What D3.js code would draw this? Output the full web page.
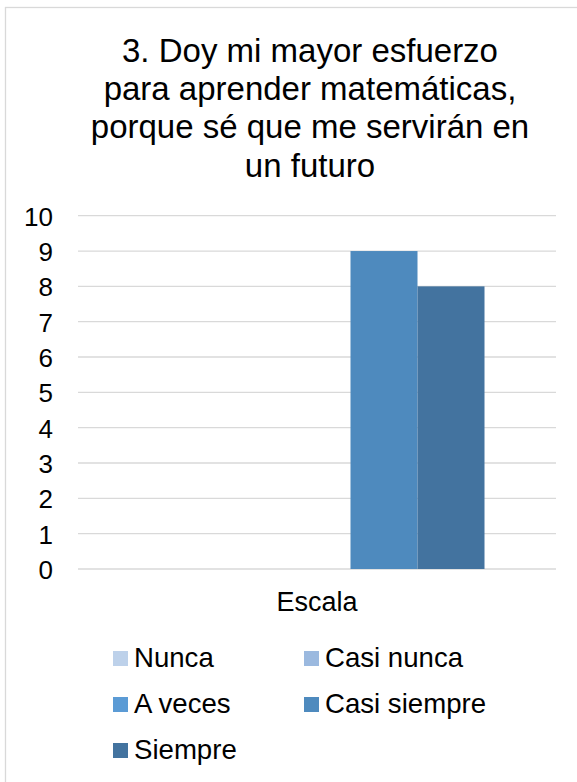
<!DOCTYPE html>
<html>
<head>
<meta charset="utf-8">
<script src="https://cdn.jsdelivr.net/npm/d3@7"></script>
<style>
  html, body { margin: 0; padding: 0; background: #fff; }
  svg { display: block; font-family: "Liberation Sans", Arial, sans-serif; }
</style>
</head>
<body>
<svg id="chart" width="577" height="782"></svg>
<script>
// Survey answers for item 3, grouped under one category
const titleLines = [
  "3. Doy mi mayor esfuerzo",
  "para aprender matemáticas,",
  "porque sé que me servirán en",
  "un futuro"
];
const categories = ["Escala"];
const seriesNames = ["Nunca", "Casi nunca", "A veces", "Casi siempre", "Siempre"];
const seriesValues = [0, 0, 0, 9, 8];
const seriesColors = ["#bdd1ea", "#9bb9df", "#5b9bd5", "#4e8abe", "#43739f"];
const yTicks = [0, 1, 2, 3, 4, 5, 6, 7, 8, 9, 10];

const svg = d3.select("#chart");

// chart frame (extends past the right and bottom edges)
svg.append("rect")
  .attr("x", 5.5).attr("y", 7.5)
  .attr("width", 620).attr("height", 820)
  .attr("fill", "#fff")
  .attr("stroke", "#d9d9d9").attr("stroke-width", 1.3);

// title
svg.append("g").selectAll("text")
  .data(titleLines)
  .join("text")
  .attr("x", 310)
  .attr("y", (d, i) => 62 + i * 38.2)
  .attr("text-anchor", "middle")
  .attr("font-size", 33)
  .attr("fill", "#000")
  .text(d => d);

const plot = { left: 78, right: 556, top: 215.7, bottom: 569 };

const y = d3.scaleLinear().domain([0, 10]).range([plot.bottom, plot.top]);
const x0 = d3.scaleBand().domain(categories).range([plot.left, plot.right]);
const groupPad = 71.5;
const x1 = d3.scaleBand().domain(seriesNames)
  .range([groupPad, x0.bandwidth() - groupPad]);

// gridlines
svg.append("g").selectAll("line")
  .data(yTicks)
  .join("line")
  .attr("x1", plot.left).attr("x2", plot.right)
  .attr("y1", d => y(d)).attr("y2", d => y(d))
  .attr("stroke", "#d9d9d9").attr("stroke-width", 1.3);

// y axis labels
const yAxis = d3.axisLeft(y).tickValues(yTicks).tickSize(0).tickPadding(0);
const yg = svg.append("g").attr("transform", `translate(53,0)`).call(yAxis);
yg.select(".domain").remove();
yg.selectAll("text")
  .attr("font-size", 26)
  .attr("font-family", "'Liberation Sans', Arial, sans-serif")
  .attr("fill", "#000")
  .attr("dy", "0.36em");

// bars
const groups = svg.append("g").selectAll("g")
  .data(categories)
  .join("g")
  .attr("transform", d => `translate(${x0(d)},0)`);

groups.selectAll("rect")
  .data(() => seriesNames.map((s, i) => ({ name: s, value: seriesValues[i], color: seriesColors[i] })))
  .join("rect")
  .attr("x", d => x1(d.name))
  .attr("width", x1.bandwidth())
  .attr("y", d => y(d.value))
  .attr("height", d => y(0) - y(d.value))
  .attr("fill", d => d.color);

// category label
const xAxis = d3.axisBottom(x0).tickSize(0).tickPadding(0);
const xg = svg.append("g").attr("transform", `translate(0,${plot.bottom})`).call(xAxis);
xg.select(".domain").remove();
xg.selectAll("text")
  .attr("font-size", 27)
  .attr("font-family", "'Liberation Sans', Arial, sans-serif")
  .attr("fill", "#000")
  .attr("y", 42)
  .attr("dy", 0);

// legend, two columns
const legendCols = [113, 304];
const legendRows = [667, 713, 759];
const legend = svg.append("g").selectAll("g")
  .data(seriesNames)
  .join("g")
  .attr("transform", (d, i) => `translate(${legendCols[i % 2]},${legendRows[Math.floor(i / 2)]})`);
legend.append("rect")
  .attr("x", 0).attr("y", -16)
  .attr("width", 15).attr("height", 15)
  .attr("fill", (d, i) => seriesColors[i]);
legend.append("text")
  .attr("x", 21).attr("y", 0)
  .attr("font-size", 27.6)
  .attr("fill", "#000")
  .text(d => d);
</script>
</body>
</html>
